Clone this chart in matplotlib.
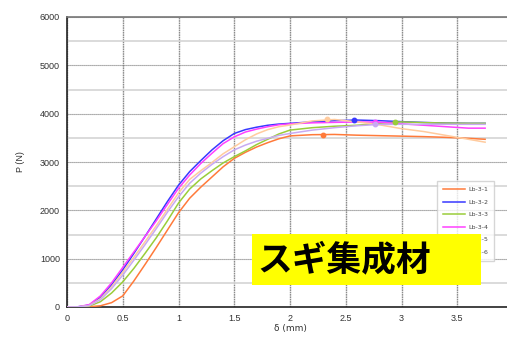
import matplotlib
matplotlib.use("Agg")
import matplotlib.pyplot as plt
from matplotlib.patches import Rectangle
from matplotlib.ticker import MultipleLocator

# displacement grid (mm) shared by all specimens
delta = [0, 0.1, 0.2, 0.3, 0.4, 0.5, 0.6, 0.7, 0.8, 0.9, 1.0, 1.1, 1.2, 1.3, 1.4,
         1.5, 1.6, 1.7, 1.8, 1.9, 2.0, 2.2, 2.4, 2.6, 2.8, 3.0, 3.2, 3.4, 3.6, 3.75]

# load (N) for each specimen
p_lb31 = [0, 0, 5, 25, 90, 230, 540, 880, 1230, 1590, 1950, 2250, 2480, 2690, 2900,
          3075, 3200, 3310, 3400, 3480, 3540, 3565, 3570, 3555, 3545, 3535, 3525, 3510, 3490, 3470]
p_lb32 = [0, 5, 40, 200, 460, 770, 1110, 1460, 1820, 2180, 2520, 2800, 3030, 3250, 3440,
          3590, 3670, 3720, 3760, 3785, 3800, 3830, 3855, 3868, 3855, 3835, 3818, 3805, 3800, 3800]
p_lb33 = [0, 2, 20, 110, 290, 520, 800, 1110, 1430, 1780, 2150, 2440, 2650, 2820, 2980,
          3110, 3230, 3360, 3470, 3580, 3660, 3710, 3740, 3760, 3800, 3830, 3815, 3805, 3800, 3800]
p_lb34 = [0, 5, 50, 230, 500, 820, 1140, 1460, 1780, 2120, 2455, 2730, 2970, 3180, 3380,
          3520, 3620, 3680, 3730, 3770, 3790, 3810, 3820, 3828, 3825, 3790, 3760, 3730, 3700, 3700]
p_lb35 = [0, 3, 30, 170, 420, 720, 1030, 1350, 1680, 2020, 2360, 2640, 2820, 2990, 3170,
          3315, 3460, 3580, 3670, 3730, 3765, 3850, 3880, 3830, 3770, 3690, 3630, 3550, 3470, 3410]
p_lb36 = [0, 3, 30, 150, 380, 660, 970, 1290, 1620, 1960, 2280, 2560, 2770, 2950, 3110,
          3250, 3350, 3430, 3490, 3550, 3590, 3660, 3710, 3750, 3778, 3780, 3780, 3780, 3780, 3780]

# maximum load points
peak_delta = [2.30, 2.57, 2.94, 2.76, 2.33, 2.76]
peak_load = [3559, 3875, 3834, 3834, 3890, 3780]

names = ["Lb-3-1", "Lb-3-2", "Lb-3-3", "Lb-3-4", "Lb-3-5", "Lb-3-6"]
colors = ["#FF7A3A", "#3838FF", "#9ACD3A", "#FF40FF", "#FFCB9E", "#C8AAF2"]
series = [p_lb31, p_lb32, p_lb33, p_lb34, p_lb35, p_lb36]

fig = plt.figure(figsize=(5.07, 3.40), dpi=100)
ax = fig.add_axes([67 / 507, 33 / 340, 446 / 507, 290 / 340])

for name, col, load, px, py in zip(names, colors, series, peak_delta, peak_load):
    ax.plot(delta, load, color=col, lw=1.1, label=name, zorder=3)
    ax.plot(px, py, "o", color=col, ms=3.2, zorder=4)

ax.set_xlim(0, 4)
ax.set_ylim(0, 6000)
ax.yaxis.set_major_locator(MultipleLocator(1000))
ax.yaxis.set_minor_locator(MultipleLocator(500))
ax.set_xticks([0, 0.5, 1, 1.5, 2, 2.5, 3, 3.5])
ax.set_xticklabels(["0", "0.5", "1", "1.5", "2", "2.5", "3", "3.5"])

ax.grid(which="major", axis="x", color="#8c8c8c", lw=1.0, ls=(0, (1.2, 0.5)), zorder=1)
ax.grid(which="major", axis="y", color="#7a7a7a", lw=0.8, ls=(0, (1, 0.8)), zorder=1)
ax.grid(which="minor", axis="y", color="#d4d4d4", lw=1.2, ls="-", zorder=1)
ax.set_axisbelow(True)

for s in ["left", "bottom"]:
    ax.spines[s].set_color("#222222")
    ax.spines[s].set_linewidth(1.2)
ax.spines["top"].set_color("#777777")
ax.spines["top"].set_linewidth(1.2)
ax.spines["right"].set_visible(False)

ax.tick_params(which="both", length=0, labelsize=6.5, colors="#333333", pad=5)
for lab in ax.get_xticklabels() + ax.get_yticklabels():
    lab.set_fontfamily("Liberation Sans")

ax.set_xlabel("δ (mm)", fontsize=6.5, color="#333333", family="DejaVu Sans", labelpad=1)
ax.set_ylabel("P (N)", fontsize=6.5, color="#333333", family="Liberation Sans", labelpad=11)

leg = fig.legend(loc="upper left", bbox_to_anchor=(434 / 507, 1 - 178 / 340),
                 fontsize=4.5, handlelength=3.6, labelspacing=1.15, frameon=True,
                 fancybox=False, edgecolor="#cccccc", borderpad=0.9, handletextpad=0.5)
for t in leg.get_texts():
    t.set_color("#444444")
leg.set_zorder(5)

# yellow caption box
rect = Rectangle((252 / 507, 1 - 285 / 340), 229 / 507, 51 / 340,
                 transform=fig.transFigure, facecolor="#FFFF00", edgecolor="none", zorder=6)
fig.add_artist(rect)
fig.text(257 / 507, 1 - 260 / 340, "スギ集成材", fontsize=25, fontweight="bold",
         family=["Noto Sans CJK JP", "DejaVu Sans"], color="black", va="center", ha="left",
         zorder=7)

fig.savefig("out.png", dpi=100)
